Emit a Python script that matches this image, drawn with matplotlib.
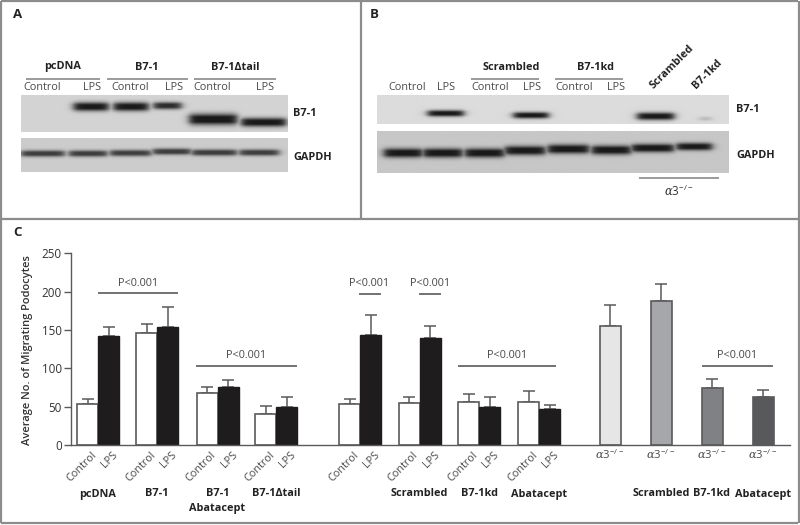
import numpy as np
import matplotlib
matplotlib.use("Agg")
import matplotlib.pyplot as plt

plt.rcParams['font.family'] = ['Open Sans', 'DejaVu Sans']
plt.rcParams['mathtext.fontset'] = 'custom'
plt.rcParams['mathtext.rm'] = 'Open Sans'
plt.rcParams['mathtext.it'] = 'DejaVu Serif:italic'

# ---- bar chart data (panel C) ----
yticks = [0, 50, 100, 150, 200, 250]
ylabel = "Average No. of Migrating Podocytes"
paired_control = [53, 146, 68, 40, 53.5, 55, 56, 56.5]
paired_control_top = [60, 158, 75, 51, 60, 62, 67, 71]
paired_lps = [142, 153.5, 75, 50, 144, 139.5, 50, 46.5]
paired_lps_top = [153.5, 180, 85, 62, 170, 155.6, 62, 52.6]
paired_groups = ["pcDNA", "B7-1", "B7-1\nAbatacept", "B7-1\u0394tail",
                 "", "Scrambled", "B7-1kd", "Abatacept"]
a3_values = [155.6, 188, 74, 62]
a3_top = [182.6, 210, 86, 72]
a3_groups = ["", "Scrambled", "B7-1kd", "Abatacept"]
a3_colors = ['#e6e6e7', '#a6a7aa', '#808184', '#58595b']
sig_label = "P<0.001"

# ---- layout (pixels) ----
W, H = 800, 525
pair_x = [98, 157, 217.5, 276, 360, 419.5, 479, 539]
a3_x = [610, 661, 712, 763]
bw = 21
sig_lines = [(98, 178, 293), (196, 297, 366), (358.5, 380.5, 293.5),
             (419, 441, 293.5), (458, 556, 366), (702, 773, 366)]
sig_text = [(138, 283), (246, 355), (369, 283), (430, 283), (507, 355), (737, 355)]

GREY = '#5a5a5c'
TXT = '#333335'
FS = 7.8

fig = plt.figure(figsize=(W / 100, H / 100), dpi=100, facecolor='white')

# main bar axes positioned in pixels
y0, y250 = 445, 253.3
ax = fig.add_axes([71 / W, 1 - y0 / H, (790 - 71) / W, (y0 - y250) / H])
ax.set_xlim(71, 790)
ax.set_ylim(0, 250)
for s in ('top', 'right'):
    ax.spines[s].set_visible(False)
for s in ('left', 'bottom'):
    ax.spines[s].set_color(GREY)
    ax.spines[s].set_linewidth(1.0)
ax.patch.set_alpha(0)
ax.set_xticks([])
ax.set_yticks(yticks)
ax.tick_params(axis='y', length=5, width=1.0, color=GREY, labelcolor=TXT,
               labelsize=FS + 0.6, pad=1.5)


def bar(x, v, top, color):
    ax.errorbar(x, v, yerr=[[0], [top - v]], color=GREY, lw=1.1, capsize=4.6,
                capthick=1.1, zorder=1)
    ax.bar(x, v, width=bw, color=color, edgecolor=GREY, linewidth=1.2, zorder=2,
           clip_on=False)


for x, c, ct, l, lt in zip(pair_x, paired_control, paired_control_top,
                           paired_lps, paired_lps_top):
    bar(x - bw / 2, c, ct, 'white')
    ax.errorbar(x + bw / 2, l, yerr=[[0], [lt - l]], color=GREY, lw=1.1, capsize=4.6,
                capthick=1.1, zorder=1)
    ax.bar(x + bw / 2, l, width=bw, color='#1f1c1d', edgecolor='#1f1c1d',
           linewidth=1.0, zorder=2)
for x, v, t, col in zip(a3_x, a3_values, a3_top, a3_colors):
    bar(x, v, t, col)

# overlay in pixel coordinates for blots, rules and annotation
ov = fig.add_axes([0, 0, 1, 1], zorder=5)
ov.patch.set_alpha(0)
ov.axis('off')


def blot(x0, x1, yt, yb, bands, bg=0.82):
    xs = np.arange(int(x0), int(x1) + 1) + 0.5
    ys = np.arange(int(yt), int(yb) + 1) + 0.5
    X, Y = np.meshgrid(xs, ys)
    dark = np.zeros(X.shape)
    for a, b, yc, th, amp in bands:
        edge = 1 / (1 + np.exp((a - X) / 2.2)) * 1 / (1 + np.exp((X - b) / 2.2))
        dark = np.maximum(dark, amp * edge * np.clip(1.25 * np.exp(-((Y - yc) / th) ** 2), 0, 1))
    img = bg * (1 - dark) + 0.10 * dark
    ov.imshow(img, cmap='gray', vmin=0, vmax=1, extent=(x0, x1, yb, yt),
              aspect='auto', interpolation='bicubic', zorder=1)


blot(21, 288, 95, 132, [(74, 109, 107, 4.2, 1), (114, 149, 107, 4.2, 1),
                        (154, 182, 106, 3.4, .9), (190, 238, 120, 5.4, 1),
                        (242, 287, 123, 4.2, 1)], bg=.83)
blot(21, 288, 138, 172, [(21, 65, 154, 3.0, .8), (69, 108, 154, 3.0, .8),
                         (110, 152, 153.5, 3.0, .8), (153, 192, 152, 3.0, .8),
                         (192, 238, 153, 3.0, .8), (240, 280, 153, 3.0, .8)], bg=.80)
blot(377, 729, 95, 124, [(428, 464, 114, 3.0, 1), (514, 549, 116, 3.0, 1),
                         (638, 675, 117, 3.6, 1), (701, 712, 119.5, 1.8, .2)], bg=.86)
blot(377, 729, 131, 173, [(384, 423, 153.5, 4.4, 1), (423, 463, 153.5, 4.4, 1),
                          (465, 505, 153.5, 4.4, 1), (505, 546, 151, 4.4, 1),
                          (548, 590, 149.5, 4.4, 1), (592, 632, 150.5, 4.4, 1),
                          (632, 675, 148.5, 4.0, 1), (677, 713, 147, 3.6, 1)], bg=.78)


def rule(x0, x1, y, color=GREY, lw=1.1):
    ov.plot([x0, x1], [y, y], color=color, lw=lw, solid_capstyle='butt', zorder=3)


def t(x, y, s, **kw):
    kw.setdefault('ha', 'center')
    kw.setdefault('va', 'center')
    kw.setdefault('fontsize', FS)
    kw.setdefault('color', TXT)
    ov.text(x, y, s, zorder=4, **kw)


def b(x, y, s, **kw):
    kw.setdefault('color', '#222224')
    t(x, y, s, fontweight='bold', **kw)


# frame of the three panels
FR = '#8c8c8e'
for (xa, ya, xb, yb) in [(1, 1, 798, 1), (1, 523, 798, 523), (1, 1, 1, 523), (798.5, 1, 798.5, 523),
                         (1, 218.5, 798, 218.5), (361, 1, 361, 218.5)]:
    ov.plot([xa, xb], [ya, yb], color=FR, lw=1.6, solid_capstyle='butt', zorder=3)

# panel letters
b(18, 15, "A", fontsize=9.5)
b(374, 15, "B", fontsize=9.5)
b(18, 233, "C", fontsize=9.5)

# panel A labels
for cx, s, (a, c) in [(63, "pcDNA", (26, 100)), (147, "B7-1", (107, 188)),
                      (235, "B7-1\u0394tail", (194, 276))]:
    b(cx, 67, s)
    rule(a, c, 79, '#8a8a8c', 1.2)
for cx, s in [(42, "Control"), (92, "LPS"), (130, "Control"), (174, "LPS"),
              (212, "Control"), (265, "LPS")]:
    t(cx, 88, s, color='#4a4a4c')
b(293, 114, "B7-1", ha='left')
b(293, 157, "GAPDH", ha='left')

# panel B labels
for cx, s, (a, c) in [(511, "Scrambled", (471, 539)), (595, "B7-1kd", (555, 623))]:
    b(cx, 67, s)
    rule(a, c, 79, '#8a8a8c', 1.2)
for cx, s in [(407, "Control"), (446, "LPS"), (490, "Control"), (532, "LPS"),
              (574, "Control"), (616, "LPS")]:
    t(cx, 88, s, color='#4a4a4c')
b(672, 67, "Scrambled", rotation=45, rotation_mode='anchor')
b(707, 74, "B7-1kd", rotation=45, rotation_mode='anchor')
b(736, 109, "B7-1", ha='left')
b(736, 155, "GAPDH", ha='left')
rule(639, 719, 178, '#8a8a8c', 1.2)
t(679, 191, r'$\alpha$3$^{-/-}$', fontsize=FS + .5)

# panel C annotation
t(28, 350, ylabel, rotation=90, fontweight='semibold', fontsize=FS + 0.2)
for (a, c, y) in sig_lines:
    rule(a, c, y, GREY, 1.2)
for (x, y) in sig_text:
    t(x, y, sig_label, color='#48484a')
for x, g in zip(pair_x, paired_groups):
    ov.text(x - bw / 2 + 3.5, 450, "Control", rotation=45, rotation_mode='anchor',
            ha='right', va='top', fontsize=FS, color='#4a4a4c', zorder=4)
    ov.text(x + bw / 2 + 4, 450, "LPS", rotation=45, rotation_mode='anchor',
            ha='right', va='top', fontsize=FS, color='#4a4a4c', zorder=4)
    if g:
        lines = g.split("\n")
        b(x, 494, lines[0])
        if len(lines) > 1:
            b(x, 508, lines[1])
for x, g in zip(a3_x, a3_groups):
    t(x, 455, r'$\alpha$3$^{-/-}$', color='#4a4a4c', fontsize=FS + .3)
    if g:
        b(x, 494, g)

ov.set_xlim(0, W)
ov.set_ylim(H, 0)

fig.savefig("out.png", dpi=100, facecolor='white')
